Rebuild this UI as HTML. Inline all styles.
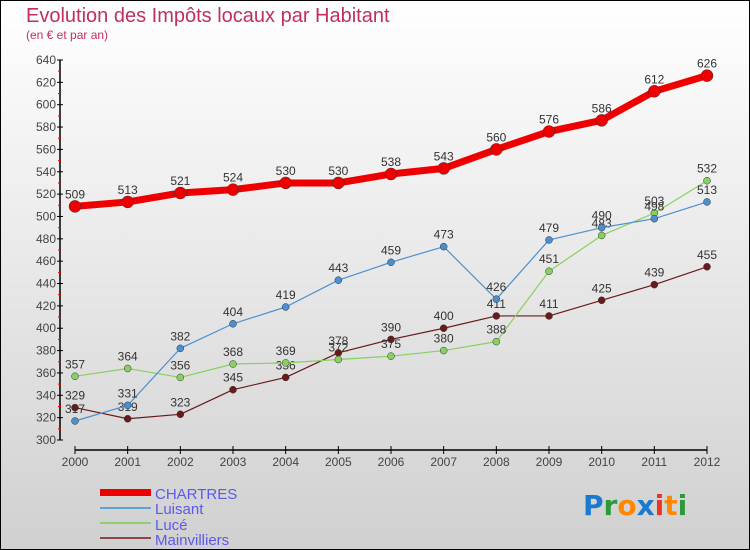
<!DOCTYPE html>
<html><head><meta charset="utf-8"><style>
body{margin:0;width:750px;height:550px;overflow:hidden;font-family:"Liberation Sans",sans-serif}
svg{display:block}
</style></head><body>
<svg id="chart" width="750" height="550" xmlns="http://www.w3.org/2000/svg">
<defs><linearGradient id="bg" x1="0" y1="0" x2="0" y2="1"><stop offset="0" stop-color="#ffffff"/><stop offset="1" stop-color="#d0d0d0"/></linearGradient></defs>
<rect x="0.5" y="0.5" width="749" height="549" fill="url(#bg)" stroke="#000"/>
<text x="26" y="22" font-size="20" fill="#c0305a">Evolution des Impôts locaux par Habitant</text>
<text x="26" y="39" font-size="12" fill="#c0305a">(en € et par an)</text>
<g id="axes"></g><g id="series"></g>
<g>
<rect x="100" y="489" width="51" height="7" fill="#ee0000"/>
<text x="155" y="499" font-size="15" fill="#5a5aee">CHARTRES</text>
<line x1="100" y1="508" x2="151" y2="508" stroke="#5ba3d6" stroke-width="2"/>
<text x="155" y="514" font-size="15" fill="#5a5aee">Luisant</text>
<line x1="100" y1="523" x2="151" y2="523" stroke="#90d070" stroke-width="2"/>
<text x="155" y="530" font-size="15" fill="#5a5aee">Lucé</text>
<line x1="100" y1="538" x2="151" y2="538" stroke="#8a4a4a" stroke-width="2"/>
<text x="155" y="545" font-size="15" fill="#5a5aee">Mainvilliers</text>
</g>
<g font-size="28" font-weight="bold" font-family="'DejaVu Sans',sans-serif">
<text x="583" y="515"><tspan fill="#1a7ad0">P</tspan><tspan fill="#2a9a3a">r</tspan><tspan fill="#ff8800">o</tspan><tspan fill="#1a7ad0">x</tspan><tspan fill="#ee3322">i</tspan><tspan fill="#ff8800">t</tspan><tspan fill="#2a9a3a">i</tspan></text>
</g>
</svg>
<script>
const years=["2000","2001","2002","2003","2004","2005","2006","2007","2008","2009","2010","2011","2012"];
const yTicks=[300,320,340,360,380,400,420,440,460,480,500,520,540,560,580,600,620,640];
const chartres=[509,513,521,524,530,530,538,543,560,576,586,612,626];
const luisant=[317,331,382,404,419,443,459,473,426,479,490,498,513];
const luce=[357,364,356,368,369,372,375,380,388,451,483,503,532];
const mainvilliers=[329,319,323,345,356,378,390,400,411,411,425,439,455];
const NS="http://www.w3.org/2000/svg";
const xs=i=>75+i*(707-75)/(years.length-1);
const ys=v=>440-(v-300)*380/340;
function mk(tag,attrs,parent){const e=document.createElementNS(NS,tag);for(const k in attrs)e.setAttribute(k,attrs[k]);parent.appendChild(e);return e;}
const ax=document.getElementById('axes');
let l=mk('line',{x1:60,y1:60,x2:60,y2:440,stroke:'#000','stroke-width':1.5},ax);


l=mk('line',{x1:75,y1:450,x2:707,y2:450,stroke:'#000','stroke-width':1.5},ax);


yTicks.forEach((v,i)=>{
  const y=ys(v);
  mk('line',{x1:57,y1:y,x2:63,y2:y,stroke:'#000'},ax);
  if(i<yTicks.length-1) mk('line',{x1:58,y1:ys(v+10),x2:61,y2:ys(v+10),stroke:'#e00'},ax);
  const t=mk('text',{x:56,y:y+4,'font-size':12,'text-anchor':'end',fill:'#444'},ax);
  t.textContent=v;
  
  
});
years.forEach((yr,i)=>{
  const x=xs(i);
  mk('line',{x1:x,y1:446,x2:x,y2:454,stroke:'#000'},ax);
  const t=mk('text',{x:x,y:466,'font-size':12,'text-anchor':'middle',fill:'#444'},ax);
  t.textContent=yr;
  
  
});
const sg=document.getElementById('series');
function draw(data,name,color,w,r){
  const g=mk('g',{},sg);
  
  
  const p=mk('polyline',{points:data.map((v,i)=>xs(i)+','+ys(v)).join(' '),fill:'none',stroke:color,'stroke-width':w,'stroke-linejoin':'round'},g);
  
  
  data.forEach((v,i)=>{
    const c=mk('circle',{cx:xs(i),cy:ys(v),r:r,fill:color,stroke:'#333','stroke-width':0.5},g);
    
    
    const t=mk('text',{x:xs(i),y:ys(v)-8,'font-size':12,'text-anchor':'middle',fill:'#333'},g);
    t.textContent=v;
    
    
  });
}
draw(mainvilliers,'mainvilliers','#6a1a1a',1.2,3.5);
draw(luce,'luce','#88d060',1.2,3.5);
draw(luisant,'luisant','#4a90d0',1.2,3.5);
draw(chartres,'chartres','#ee0000',7,6);
</script>
</body></html>
